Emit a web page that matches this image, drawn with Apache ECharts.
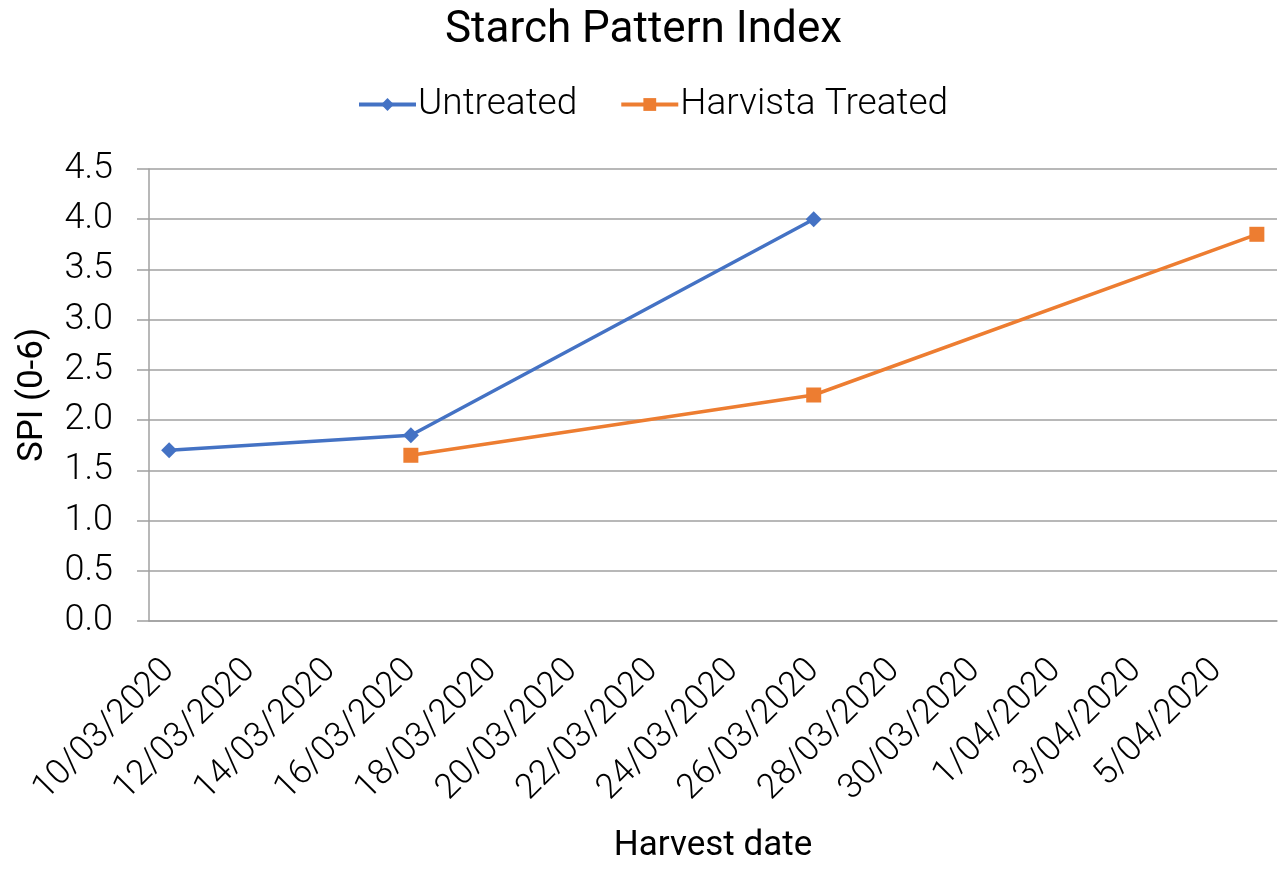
<!DOCTYPE html>
<html>
<head>
<meta charset="utf-8">
<title>Starch Pattern Index</title>
<script src="https://cdn.jsdelivr.net/npm/echarts@6/dist/echarts.min.js"></script>
<style>
    html, body { margin: 0; padding: 0; background: #fff; overflow: hidden; }
    #chart { width: 1287px; height: 869px; }
</style>
</head>
<body>
<div id="chart"></div>
<script>
    // one category per day, labels shown every second day
    var days = [
        '10/03/2020', '11/03/2020', '12/03/2020', '13/03/2020', '14/03/2020', '15/03/2020', '16/03/2020',
        '17/03/2020', '18/03/2020', '19/03/2020', '20/03/2020', '21/03/2020', '22/03/2020', '23/03/2020',
        '24/03/2020', '25/03/2020', '26/03/2020', '27/03/2020', '28/03/2020', '29/03/2020', '30/03/2020',
        '31/03/2020', '1/04/2020', '2/04/2020', '3/04/2020', '4/04/2020', '5/04/2020', '6/04/2020'
    ];

    var untreatedDates = ['10/03/2020', '16/03/2020', '26/03/2020'];
    var untreatedSPI = [1.7, 1.85, 4.0];

    var treatedDates = ['16/03/2020', '26/03/2020', '6/04/2020'];
    var treatedSPI = [1.65, 2.25, 3.85];

    function pairs(dates, values) {
        return dates.map(function (d, i) { return [d, values[i]]; });
    }

    var font = 'Roboto';
    var gray = '#a0a0a0';

    var chart = echarts.init(document.getElementById('chart'));
    chart.setOption({
        animation: false,
        title: {
            text: 'Starch Pattern Index',
            left: 'center',
            top: 4,
            textStyle: { fontFamily: font, fontSize: 44, fontWeight: 400, color: '#000' }
        },
        legend: {
            top: 81,
            left: 352,
            itemWidth: 57,
            itemHeight: 16,
            itemGap: 42,
            lineStyle: { width: 4 },
            textStyle: { fontFamily: font, fontSize: 37, fontWeight: 300, color: '#000', padding: [0, 0, 0, -3] },
            data: ['Untreated', 'Harvista Treated']
        },
        grid: {
            left: 149,
            width: 1128,
            top: 169,
            height: 456,
            containLabel: false
        },
        xAxis: {
            type: 'category',
            data: days,
            boundaryGap: true,
            name: 'Harvest date',
            nameLocation: 'middle',
            nameGap: 208,
            nameTextStyle: { fontFamily: font, fontSize: 35, fontWeight: 400, color: '#000' },
            axisLine: { lineStyle: { color: gray, width: 1.5 } },
            axisTick: { interval: 1, length: 11, lineStyle: { color: gray, width: 1.5 } },
            axisLabel: {
                interval: 1,
                rotate: 45,
                margin: 44,
                fontFamily: font,
                fontSize: 35,
                fontWeight: 300,
                color: '#000'
            }
        },
        yAxis: {
            type: 'value',
            min: 0,
            max: 4.5,
            interval: 0.5,
            name: 'SPI (0-6)',
            nameLocation: 'middle',
            nameGap: 98,
            nameTextStyle: { fontFamily: font, fontSize: 35, fontWeight: 400, color: '#000' },
            axisLine: { show: true, lineStyle: { color: gray, width: 1.5 } },
            axisTick: { show: true, length: 12, lineStyle: { color: gray, width: 1.5 } },
            splitLine: { lineStyle: { color: gray, width: 1.5 } },
            axisLabel: {
                margin: 36,
                fontFamily: font,
                fontSize: 36,
                fontWeight: 300,
                color: '#000',
                formatter: function (v) { return v.toFixed(1); }
            }
        },
        series: [
            {
                name: 'Untreated',
                type: 'line',
                data: pairs(untreatedDates, untreatedSPI),
                symbol: 'diamond',
                symbolSize: 16,
                color: '#4472C4',
                lineStyle: { width: 3.5 }
            },
            {
                name: 'Harvista Treated',
                type: 'line',
                data: pairs(treatedDates, treatedSPI),
                symbol: 'rect',
                symbolSize: 15,
                color: '#ED7D31',
                lineStyle: { width: 3.5 }
            }
        ]
    });
</script>
</body>
</html>
